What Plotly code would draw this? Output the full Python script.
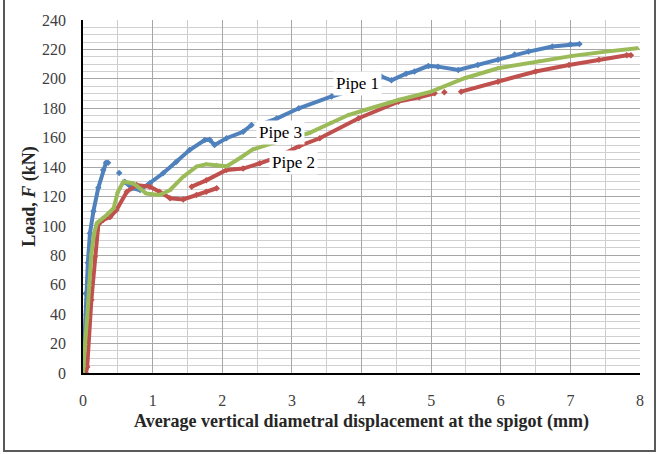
import plotly.graph_objects as go

# ---- data ----
pipe1_x = [0.0, 0.02, 0.04, 0.07, 0.10, 0.15, 0.22, 0.29, 0.33, 0.36, None, 0.52, None,
           0.60, 0.70, 0.82, 0.96, 1.15, 1.34, 1.53, 1.75, 1.82, 1.89, 2.06, 2.30, 2.42, None,
           2.55, 2.78, 3.10, 3.57, 3.88, 4.10, 4.29, 4.43, 4.64, 4.76, 4.96, 5.10, 5.39,
           5.67, 5.96, 6.20, 6.40, 6.74, 7.00, 7.13]
pipe1_y = [0, 20, 54, 75, 95, 110, 126, 138, 143, 143, None, 136, None,
           130, 125.6, 124.4, 129, 135.8, 143.7, 151.6, 158.4, 158.5, 155, 159.6, 164, 168.6, None,
           169, 173, 180, 188, 192.5, 196.5, 201.5, 199, 203.5, 205, 208.8, 208.3, 206,
           209.4, 213, 216.5, 218.5, 222, 223.5, 223.7]

pipe2_x = [0.04, 0.06, 0.12, 0.17, 0.20, 0.22, 0.29, 0.39, 0.48, 0.63, 0.77, 0.96, 1.10, 1.25,
           1.44, 1.63, 1.77, 1.92, None,
           1.56, 1.77, 2.06, 2.30, 2.54, 2.80, 3.11, 3.40, 3.96, 4.53, 4.83, 5.05, None,
           5.19, None,
           5.43, 5.96, 6.50, 6.98, 7.41, 7.81, 7.87]
pipe2_y = [0, 4, 49.6, 79, 97, 101, 104, 106, 110.8, 123.3, 127.8, 126.7, 123.3, 118.8,
           118, 121, 123.3, 125.6, None,
           126.7, 131, 138, 139, 142.6, 147, 154.4, 159.6, 173.2, 184.5, 187.5, 190.2, None,
           190.8, None,
           191.3, 198, 205, 209.4, 213, 216, 216]

pipe3_x = [0.0, 0.01, 0.03, 0.06, 0.09, 0.12, 0.16, 0.20, 0.34, 0.44, 0.50, 0.58, 0.72, 0.91,
           1.10, 1.25, 1.44, 1.63, 1.77, 1.92, 2.06, 2.25, 2.44, 2.70, 2.90, 3.24, 3.55, 3.81,
           4.05, 4.53, 5.00, 5.48, 5.96, 6.55, 7.03, 7.51, 7.96]
pipe3_y = [0, 5, 20, 38, 60, 81, 95, 102, 107.4, 112, 123, 130, 129, 122,
           121, 124.4, 133.5, 140.3, 141.9, 141.4, 140.5, 146, 152, 156, 159, 163, 170, 175.4,
           178.8, 185.6, 191.3, 200.4, 207.2, 212, 215.6, 218.5, 220.8]

labels = ["Pipe 1", "Pipe 2", "Pipe 3"]
label_x = [3.94, 3.02, 2.83]
label_y = [196.5, 142.8, 163.2]

x_ticks = [0, 1, 2, 3, 4, 5, 6, 7, 8]
y_ticks = list(range(0, 241, 20))

colors = ["#4F81BD", "#C0504D", "#9BBB59"]
symbols = ["diamond", "diamond", "triangle-up"]

fig = go.Figure()
for xs, ys, c, s, name in zip([pipe1_x, pipe2_x, pipe3_x], [pipe1_y, pipe2_y, pipe3_y],
                              colors, symbols, labels):
    fig.add_trace(go.Scatter(x=xs, y=ys, mode="lines+markers", name=name,
                             line=dict(color=c, width=4),
                             marker=dict(color=c, symbol=s, size=5),
                             connectgaps=False, showlegend=False))

for t, lx, ly in zip(labels, label_x, label_y):
    fig.add_annotation(x=lx, y=ly, text=t, showarrow=False, bgcolor="white",
                       font=dict(family="Liberation Serif", size=17, color="black"),
                       borderpad=2)

L, T, R, B = 83, 20, 22, 81
W, H = 662, 454
pw, ph = W - L - R, H - T - B

# outer figure border
fig.add_shape(type="rect", xref="paper", yref="paper",
              x0=(4 - L) / pw, x1=(655 - L) / pw,
              y0=(H - B - 451) / ph, y1=(H - B + 3) / ph,
              line=dict(color="#595959", width=2), layer="below")

fig.update_layout(
    width=W, height=H, margin=dict(l=L, r=R, t=T, b=B),
    paper_bgcolor="white", plot_bgcolor="white",
    font=dict(family="Liberation Serif", size=16, color="#404040"),
    xaxis=dict(range=[0, 8], tickvals=x_ticks, showgrid=True, gridcolor="#A6A6A6", gridwidth=1,
               minor=dict(dtick=0.5, showgrid=True, gridcolor="#CCCCCC", gridwidth=1),
               showline=True, linecolor="black", linewidth=1.5, zeroline=False,
               ticks="", ticklabelstandoff=12,
               tickfont=dict(family="Liberation Serif", size=16, color="#404040"),
               title=dict(text="<b>Average vertical diametral displacement at the spigot (mm)</b>",
                          font=dict(family="Liberation Serif", size=18, color="#262626"),
                          standoff=6)),
    yaxis=dict(range=[0, 240], tickvals=y_ticks, showgrid=True, gridcolor="#A6A6A6", gridwidth=1,
               minor=dict(dtick=5, showgrid=True, gridcolor="#D0D0D0", gridwidth=1),
               showline=True, linecolor="black", linewidth=1.5, zeroline=False,
               ticks="", ticklabelstandoff=12,
               tickfont=dict(family="Liberation Serif", size=16, color="#404040"),
               title=dict(text="<b>Load, <i>F</i> (kN)</b>",
                          font=dict(family="Liberation Serif", size=18, color="#262626"),
                          standoff=2)),
)

fig.write_html("out.html")
